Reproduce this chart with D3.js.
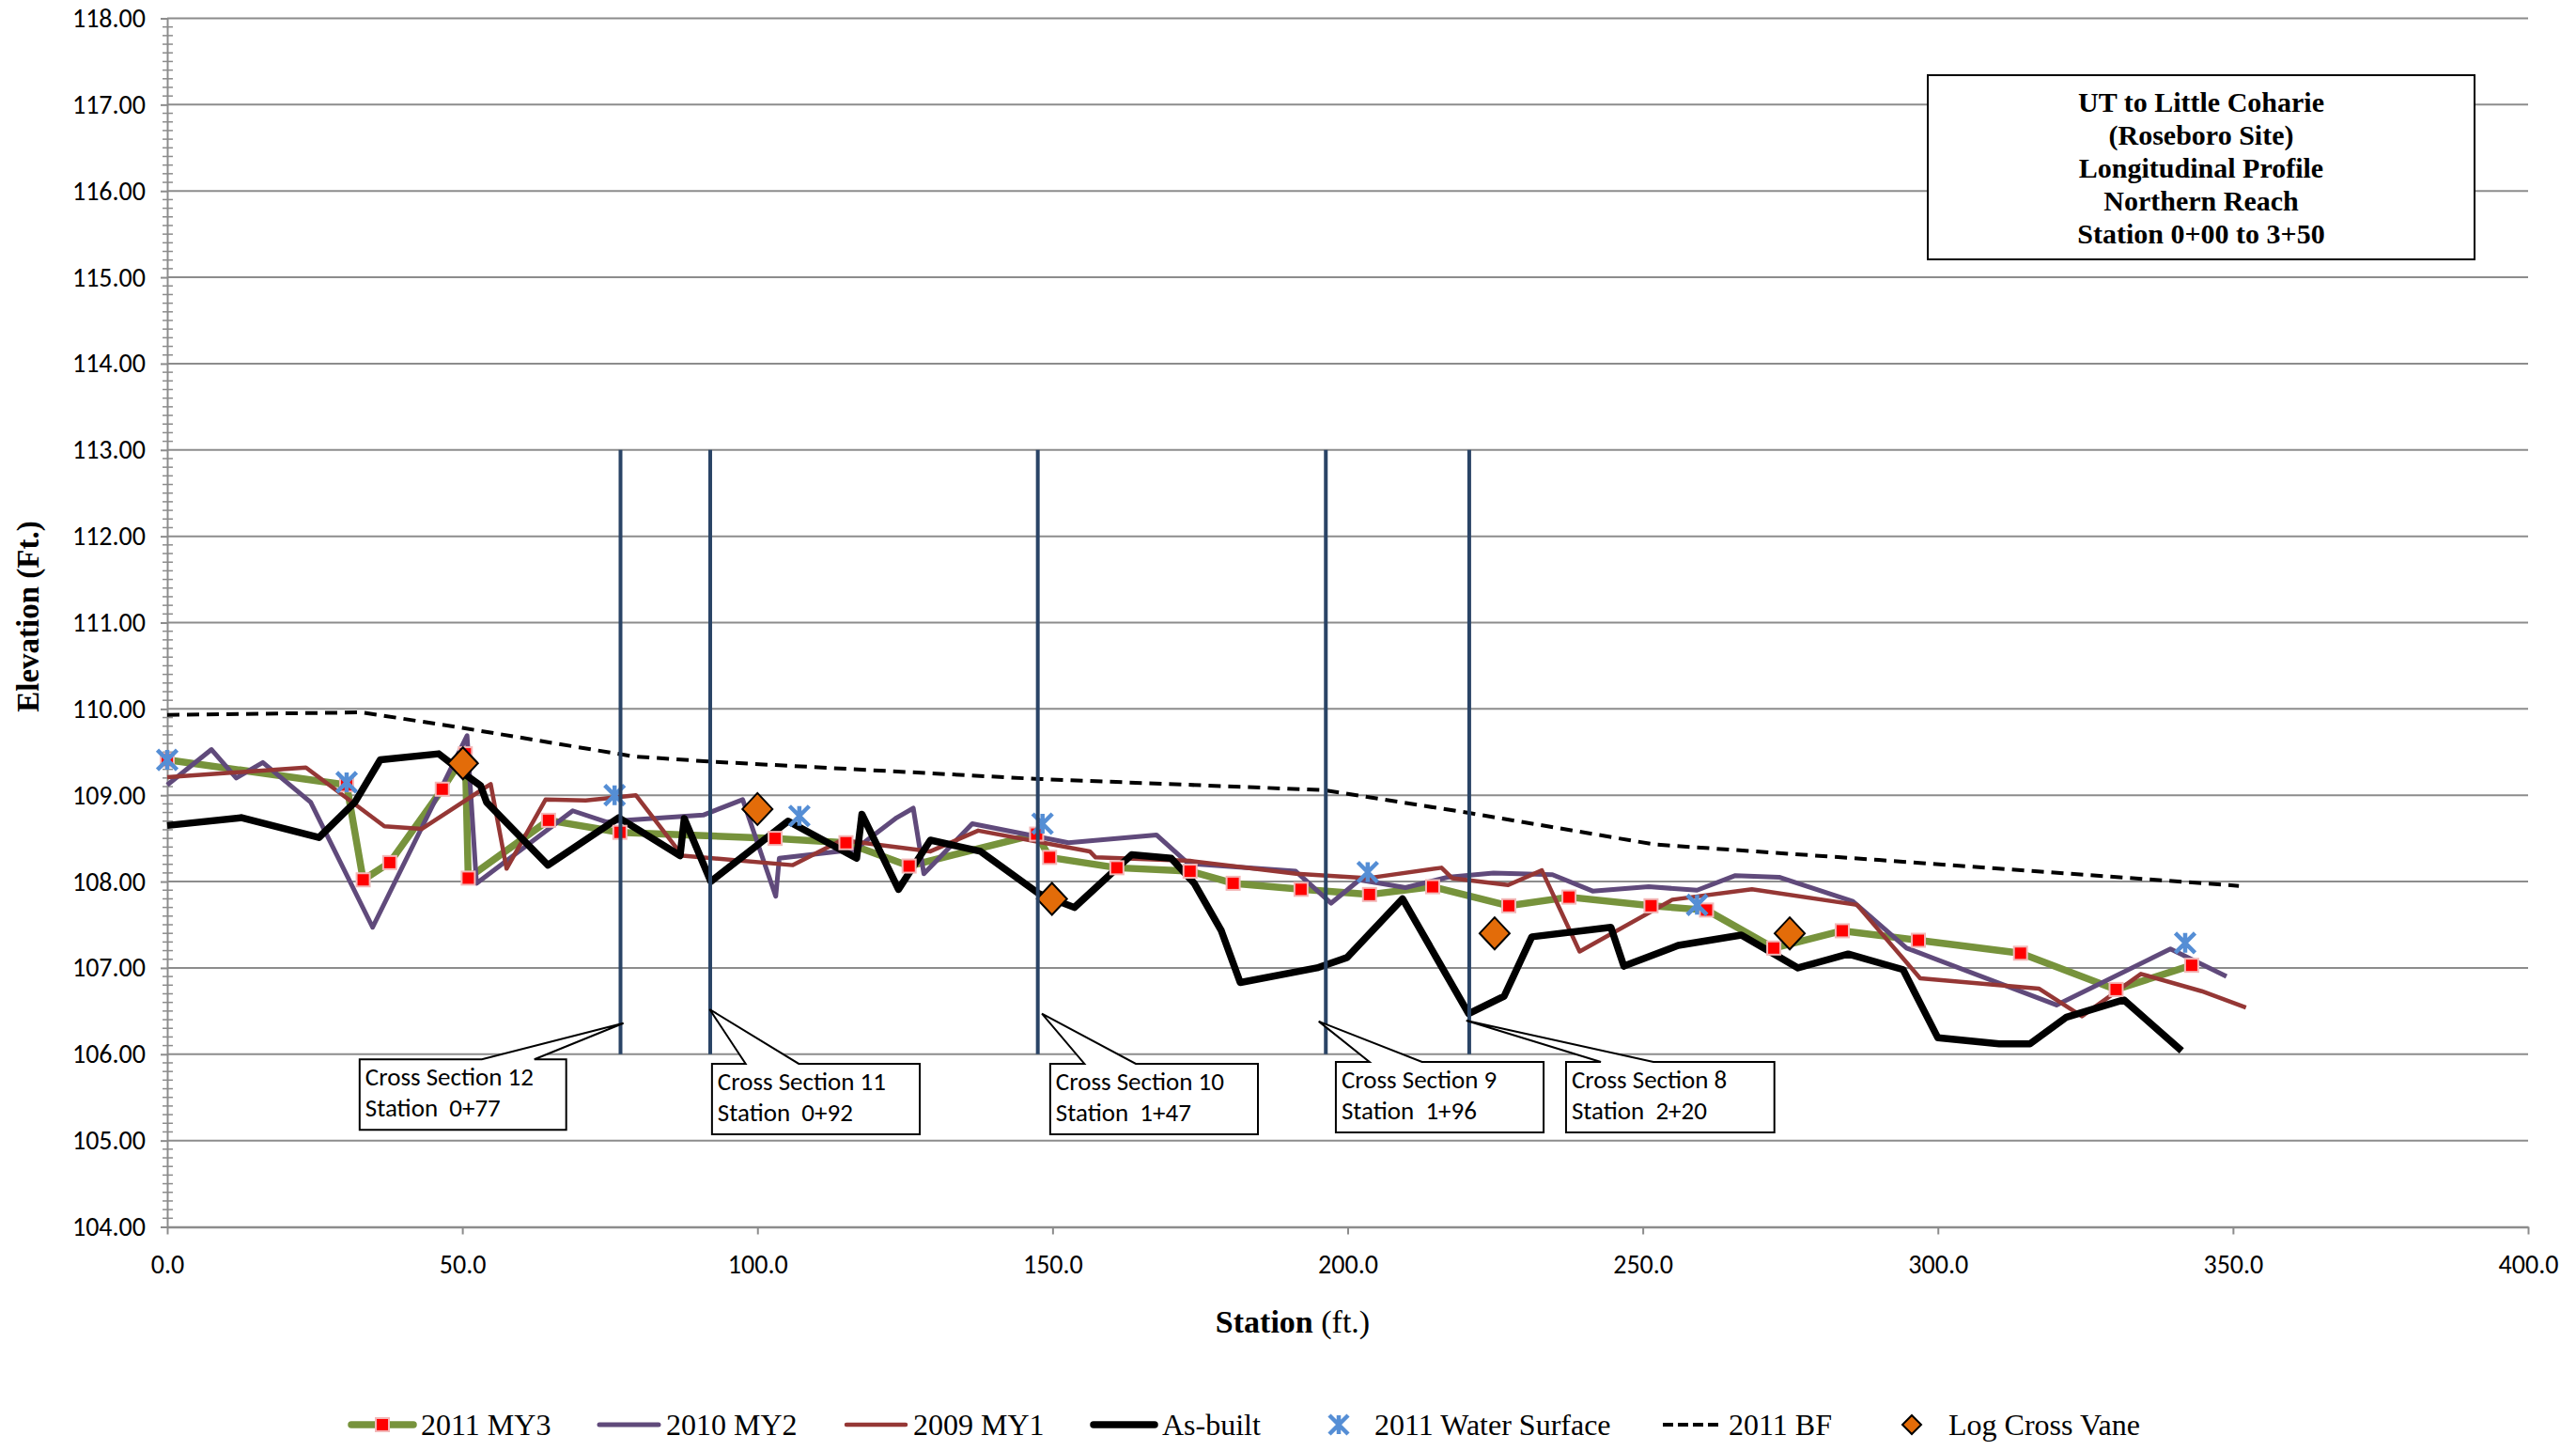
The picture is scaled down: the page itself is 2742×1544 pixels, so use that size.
<!DOCTYPE html>
<html><head><meta charset="utf-8">
<script src="https://cdn.jsdelivr.net/npm/d3@7"></script>
<style>body{margin:0;background:#fff} svg{display:block}</style>
</head><body>
<svg id="c" width="2742" height="1544"></svg>
<script>
// ---------------- DATA (station ft, elevation ft) ----------------
const my3 = [[0,109.41],[30.4,109.12],[33.2,108.02],[37.7,108.22],[46.6,109.07],[50.5,109.48],[51,108.04],[64.6,108.71],[76.7,108.57],[103,108.50],[115,108.45],[125.7,108.18],[147.3,108.55],[149.5,108.28],[160.9,108.16],[173.3,108.12],[180.6,107.98],[192.1,107.91],[203.7,107.85],[214.4,107.94],[227.3,107.72],[237.5,107.82],[251.4,107.72],[260.8,107.67],[272.2,107.23],[283.8,107.43],[296.7,107.32],[314,107.17],[330.2,106.75],[343,107.03]];
const my2 = [[0,109.12],[7.5,109.53],[11.7,109.2],[16.2,109.38],[24.3,108.92],[34.8,107.47],[50.8,109.69],[52.4,107.98],[68.7,108.82],[74.4,108.69],[77.9,108.71],[90.8,108.77],[97.5,108.95],[103.1,107.83],[103.7,108.27],[116.5,108.37],[123.6,108.74],[126.4,108.85],[128.2,108.09],[136.4,108.67],[152.7,108.45],[167.6,108.54],[173,108.21],[191.2,108.12],[197.2,107.75],[202,108.02],[209.8,107.93],[216.9,108.05],[224.7,108.10],[234.7,108.08],[241.5,107.89],[251,107.94],[259.2,107.90],[265.7,108.07],[273.1,108.05],[285.6,107.77],[294.7,107.23],[320.1,106.57],[339.4,107.22],[348.9,106.90]];
const my1 = [[0,109.21],[23.5,109.32],[36.8,108.64],[43.1,108.61],[54.8,109.13],[57.5,108.15],[64.1,108.95],[70.9,108.94],[79.4,109.0],[87.3,108.30],[106,108.19],[114.3,108.48],[129.3,108.35],[137.4,108.59],[156.3,108.35],[157.3,108.28],[173.3,108.24],[191.3,108.09],[203.5,108.04],[215.9,108.16],[217.7,108.04],[227.2,107.96],[232.9,108.13],[239.3,107.19],[255,107.79],[268.5,107.91],[286.3,107.73],[297,106.88],[317.1,106.76],[324.4,106.44],[334.4,106.93],[344.7,106.73],[352.2,106.54]];
const asBuilt = [[0,108.65],[12.6,108.74],[25.7,108.51],[31.8,108.92],[36.1,109.41],[46,109.48],[50.9,109.22],[53.1,109.11],[54.1,108.92],[64.5,108.19],[76.5,108.74],[86.9,108.30],[87.6,108.73],[92.1,108.0],[105.2,108.70],[116.8,108.27],[117.7,108.78],[123.9,107.91],[129.3,108.48],[137.8,108.35],[147.7,107.86],[153.7,107.70],[163.4,108.31],[170.1,108.27],[174,107.98],[178.6,107.43],[181.8,106.83],[194.8,107.0],[199.9,107.12],[209.3,107.80],[220.5,106.47],[226.5,106.67],[231.2,107.36],[244.6,107.47],[246.8,107.02],[256,107.26],[266.7,107.38],[276.3,107.0],[284.8,107.16],[294.1,106.98],[300,106.19],[310.4,106.12],[315.6,106.12],[321.8,106.43],[331.5,106.63],[341.3,106.04]];
const waterSurface = [[0,109.41],[30.4,109.15],[75.8,109.0],[107.1,108.76],[148.3,108.67],[203.4,108.11],[259.2,107.73],[341.9,107.29]];
const bankfull = [[0,109.93],[33,109.96],[50,109.78],[79,109.45],[92,109.39],[147,109.19],[196,109.06],[221,108.79],[252,108.43],[290,108.25],[351,107.95]];
const logVanes = [[50.1,109.37],[100,108.84],[149.9,107.80],[224.9,107.40],[274.9,107.40]];

const crossSections = ["Cross Section 12","Cross Section 11","Cross Section 10","Cross Section 9","Cross Section 8"];
const csLabels = ["Station  0+77","Station  0+92","Station  1+47","Station  1+96","Station  2+20"];
const csStations = [76.8, 92, 147.5, 196.3, 220.6];
const csLineTop = 113.0, csLineBottom = 106.0;
// callout: [boxLeft, boxRight, wedgeLeft, wedgeRight, tipStation, tipElev] (station units)
const csCallouts = [[32.6,67.6,53.3,62.2,77.3,106.36],[92.3,127.5,98.0,107.0,91.9,106.52],[149.6,184.8,155.4,164.1,148.2,106.47],[198.0,233.2,203.7,212.6,195.1,106.38],[237.0,272.3,242.9,251.8,220.1,106.39]];
const csBoxTop = [105.94,105.89,105.89,105.91,105.91];

const yTicks = [104,105,106,107,108,109,110,111,112,113,114,115,116,117,118];
const xTicks = [0,50,100,150,200,250,300,350,400];
const titleLines = ["UT to Little Coharie","(Roseboro Site)","Longitudinal Profile","Northern Reach","Station 0+00 to 3+50"];
const legendNames = ["2011 MY3","2010 MY2","2009 MY1","As-built","2011 Water Surface","2011 BF","Log Cross Vane"];

// ---------------- CHART ----------------
const svg = d3.select('#c');
svg.append('rect').attr('width',2742).attr('height',1544).attr('fill','#fff');
const x = d3.scaleLinear().domain([0,400]).range([178,2691]);
const y = d3.scaleLinear().domain([104,118]).range([1305.5,19.5]);
const serif = '"Liberation Serif","Times New Roman",serif';
const sans = 'Carlito,Lato,"Liberation Sans",sans-serif';
const gridC = '#8c8c8c';

// gridlines
svg.append('g').selectAll('line').data(yTicks.filter(d=>d>104)).join('line')
  .attr('x1',x(0)).attr('x2',x(400)).attr('y1',d=>y(d)).attr('y2',d=>y(d))
  .attr('stroke',gridC).attr('stroke-width',2);

// y axis
const yAxis = svg.append('g').attr('transform',`translate(${x(0)},0)`)
  .call(d3.axisLeft(y).tickValues(yTicks).tickSize(7).tickSizeOuter(0).tickPadding(16).tickFormat(d=>d.toFixed(2)));
yAxis.select('.domain').attr('stroke',gridC).attr('stroke-width',2);
yAxis.selectAll('.tick line').attr('stroke',gridC).attr('stroke-width',2);
yAxis.selectAll('text').attr('font-family',sans).attr('font-size',28).attr('fill','#000');
// minor ticks
svg.append('g').selectAll('line').data(d3.range(1,140).filter(i=>i%10!==0).map(i=>104+i/10)).join('line')
  .attr('x1',x(0)-5).attr('x2',x(0)+6).attr('y1',d=>y(d)).attr('y2',d=>y(d))
  .attr('stroke',gridC).attr('stroke-width',1.5);

// x axis
const xAxis = svg.append('g').attr('transform',`translate(0,${y(104)})`)
  .call(d3.axisBottom(x).tickValues(xTicks).tickSize(8).tickSizeOuter(0).tickPadding(22).tickFormat(d=>d.toFixed(1)));
xAxis.select('.domain').attr('stroke',gridC).attr('stroke-width',2.5);
xAxis.selectAll('.tick line').attr('stroke',gridC).attr('stroke-width',2);
xAxis.selectAll('text').attr('font-family',sans).attr('font-size',28).attr('fill','#000');

// axis titles
svg.append('text').attr('transform','translate(30,656) rotate(-90)').attr('text-anchor','middle')
  .attr('dominant-baseline','central').attr('font-family',serif).attr('font-weight','bold').attr('font-size',33).text('Elevation (Ft.)');
const xt = svg.append('text').attr('x',1376).attr('y',1418).attr('text-anchor','middle').attr('font-family',serif).attr('font-size',34);
xt.append('tspan').attr('font-weight','bold').text('Station ');
xt.append('tspan').text('(ft.)');

// lines
const line = d3.line().x(d=>x(d[0])).y(d=>y(d[1]));
const add = (data,color,w,dash)=>svg.append('path').datum(data).attr('d',line).attr('fill','none')
  .attr('stroke',color).attr('stroke-width',w).attr('stroke-linejoin','round').attr('stroke-dasharray',dash||null);
add(my3,'#77933C',7.5);
add(my2,'#604A7B',5);
add(my1,'#953735',4.5);
add(asBuilt,'#000',7.5);
add(bankfull,'#000',4,'13,8');

// markers
function square(g,cx,cy,s){g.append('rect').attr('x',cx-s/2).attr('y',cy-s/2).attr('width',s).attr('height',s)
  .attr('fill','#FF0000').attr('stroke','#F2B8B8').attr('stroke-width',2);}
function star(g,cx,cy,s){const h=s/2;
  const p=`M${cx-h},${cy-h}L${cx+h},${cy+h}M${cx+h},${cy-h}L${cx-h},${cy+h}M${cx},${cy-h}L${cx},${cy+h}`;
  g.append('path').attr('d',p).attr('stroke','#558ED5').attr('stroke-width',4.5).attr('fill','none');}
function diamond(g,cx,cy,w,hh){g.append('path').attr('d',`M${cx},${cy-hh/2}L${cx+w/2},${cy}L${cx},${cy+hh/2}L${cx-w/2},${cy}Z`)
  .attr('fill','#E36C09').attr('stroke','#000').attr('stroke-width',2);}
const mk = svg.append('g');
my3.forEach(d=>square(mk,x(d[0]),y(d[1]),14));
waterSurface.forEach(d=>star(mk,x(d[0]),y(d[1]),21));
logVanes.forEach(d=>diamond(mk,x(d[0]),y(d[1]),32,34));

// cross-section lines
svg.append('g').selectAll('line').data(csStations).join('line')
  .attr('x1',d=>x(d)).attr('x2',d=>x(d)).attr('y1',y(csLineTop)).attr('y2',y(csLineBottom))
  .attr('stroke','#2A4466').attr('stroke-width',4);

// callouts
const co = svg.append('g');
csCallouts.forEach((c,i)=>{
  const L=x(c[0]),R=x(c[1]),wl=x(c[2]),wr=x(c[3]),tx=x(c[4]),ty=y(c[5]);
  const T=y(csBoxTop[i]), B=T+75;
  co.append('path').attr('d',`M${L},${T}L${wl},${T}L${tx},${ty}L${wr},${T}L${R},${T}L${R},${B}L${L},${B}Z`)
    .attr('fill','#fff').attr('stroke','#000').attr('stroke-width',2);
  co.append('text').attr('x',L+6).attr('y',T+28).attr('font-family',sans).attr('font-size',27).text(crossSections[i]);
  co.append('text').attr('x',L+6).attr('y',T+61).attr('font-family',sans).attr('font-size',27).style('white-space','pre').text(csLabels[i]);
});

// title box
svg.append('rect').attr('x',2052).attr('y',80).attr('width',582).attr('height',196)
  .attr('fill','#fff').attr('stroke','#000').attr('stroke-width',2);
svg.append('g').selectAll('text').data(titleLines).join('text')
  .attr('x',2343).attr('y',(d,i)=>108+35*i).attr('text-anchor','middle').attr('dominant-baseline','central')
  .attr('font-family',serif).attr('font-weight','bold').attr('font-size',30).text(d=>d);

// legend
const lg = svg.append('g');
const ly = 1516;
const lgText = (tx,i)=>lg.append('text').attr('x',tx).attr('y',ly).attr('dominant-baseline','central')
  .attr('font-family',serif).attr('font-size',32).text(legendNames[i]);
lg.append('line').attr('x1',374).attr('x2',440).attr('y1',ly).attr('y2',ly).attr('stroke','#77933C').attr('stroke-width',7.5).attr('stroke-linecap','round');
square(lg,407,ly,14); lgText(448,0);
lg.append('line').attr('x1',638).attr('x2',701).attr('y1',ly).attr('y2',ly).attr('stroke','#604A7B').attr('stroke-width',5).attr('stroke-linecap','round');
lgText(709,1);
lg.append('line').attr('x1',901).attr('x2',964).attr('y1',ly).attr('y2',ly).attr('stroke','#953735').attr('stroke-width',4.5).attr('stroke-linecap','round');
lgText(972,2);
lg.append('line').attr('x1',1164).attr('x2',1229).attr('y1',ly).attr('y2',ly).attr('stroke','#000').attr('stroke-width',7.5).attr('stroke-linecap','round');
lgText(1237,3);
star(lg,1425,ly,20); lgText(1463,4);
lg.append('line').attr('x1',1770).attr('x2',1830).attr('y1',ly).attr('y2',ly).attr('stroke','#000').attr('stroke-width',4).attr('stroke-dasharray','11,5');
lgText(1840,5);
diamond(lg,2035,ly,20,20); lgText(2074,6);
</script>
</body></html>
